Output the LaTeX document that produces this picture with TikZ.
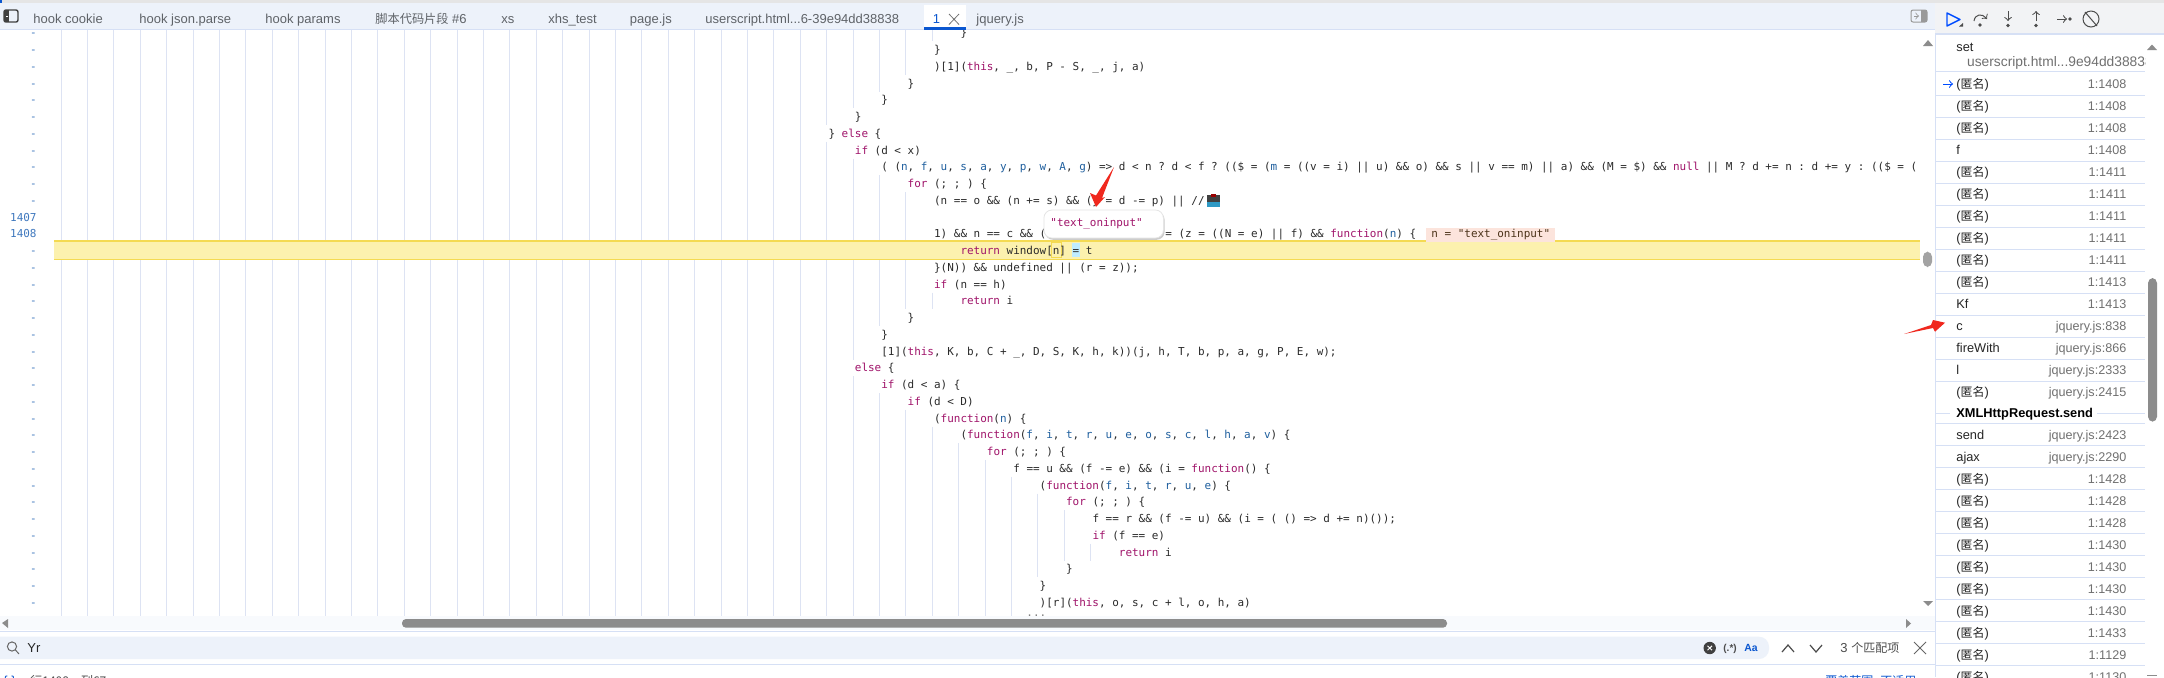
\documentclass[tikz,border=0pt]{standalone}
\usepackage{fontspec}
\usetikzlibrary{shadows}
\setmainfont{Liberation Sans}
\setmonofont{DejaVu Sans Mono}
\newfontfamily\cjk{Noto Sans CJK SC}
\definecolor{tabbg}{HTML}{EDF2FA}
\definecolor{tabtxt}{HTML}{5F6368}
\definecolor{guide}{HTML}{DDE3F3}
\definecolor{rule}{HTML}{D6E0F5}
\definecolor{codetxt}{HTML}{2B2B2B}
\definecolor{codekw}{HTML}{A0146A}
\definecolor{codepr}{HTML}{1F5F9E}
\definecolor{activeblue}{HTML}{0B57D0}
\definecolor{numblue}{HTML}{3F78BE}
\definecolor{bandfill}{HTML}{FCF1AE}
\definecolor{bandline}{HTML}{F4DA52}
\definecolor{chipfill}{HTML}{FCE4DC}
\definecolor{scrollgray}{HTML}{8C8C8C}
\definecolor{arrowred}{HTML}{F0281E}
\definecolor{toolbg}{HTML}{F2F3F5}
\definecolor{stackgray}{HTML}{707070}
\newcommand{\kw}[1]{\textcolor{codekw}{#1}}
\newcommand{\pr}[1]{\textcolor{codepr}{#1}}
\newcommand{\ands}{\&\&}
\newcommand{\anon}{({\cjk\fontsize{6}{7}\selectfont 匿名})}
\newcommand{\scripttab}{userscript.html...6-39e94dd38838}
\newcommand{\coderow}[3]{\node[codeline] (row#1) at ({62.5+26.4*#2},{36.8+16.75*#1}) {#3};}
\tikzset{
  codeline/.style={anchor=base west,inner sep=0pt,text=codetxt,font=\ttfamily\fontsize{5.48}{6}\selectfont},
  tabtext/.style={anchor=base west,inner sep=0pt,text=tabtxt,font=\fontsize{6.5}{7}\selectfont},
  stackfn/.style={anchor=base west,inner sep=0pt,text=black!85,font=\fontsize{6.4}{7}\selectfont},
  stackloc/.style={anchor=base east,inner sep=0pt,text=stackgray,font=\fontsize{6.3}{7}\selectfont},
  linenum/.style={anchor=base east,inner sep=0pt,text=numblue,font=\ttfamily\fontsize{5.48}{6}\selectfont},
  popupbox/.style={anchor=west,draw=black!10,fill=white,rounded corners=4pt,inner xsep=3.25pt,inner ysep=0pt,
    minimum height=14pt,text width=53.25pt,align=left,font=\ttfamily\fontsize{5.48}{6}\selectfont,
    drop shadow={shadow xshift=0.6pt,shadow yshift=-0.9pt,opacity=0.4}},
  redarrow/.style={fill=arrowred,draw=none},
  icon/.style={draw=black!70,line width=0.5pt},
}
\begin{document}
\begin{tikzpicture}[x=0.5pt,y=-0.5pt]
  \useasboundingbox (0,0) rectangle (2164,677);
  \fill[white] (0,0) rectangle (2164,677);

  % indent guides
  \begin{scope}
    \clip (0,30) rectangle (1920,617);
    \foreach \k in {0,...,28}
      \draw[guide,line width=0.5pt] ({61+26.4*\k},30) -- ({61+26.4*\k},616);
    \foreach \i/\L in {0/34,1/33,2/33,3/32,4/31,5/30,7/30,8/31,9/32,10/33,11/33,12/33,13/34,14/33,15/33,16/34,17/32,18/31,
      19/31,20/30,21/31,22/32,23/33,24/34,25/35,26/36,27/37,28/38,29/39,30/39,31/40,32/38,33/37,34/37,35/37} {
      \pgfmathtruncatemacro{\Lm}{\L-1}
      \foreach \k in {29,...,\Lm}
        \draw[guide,line width=0.5pt] ({61+26.4*\k},{24.6+16.75*\i}) -- ({61+26.4*\k},{41.4+16.75*\i});
    }
  \end{scope}

  % paused line
  \fill[bandfill] (54,241) rectangle (1920,259.5);
  \draw[bandline,line width=0.7pt] (54,241) -- (1920,241);
  \draw[bandline,line width=0.7pt] (54,259.5) -- (1920,259.5);
  \draw[bandline,line width=0.5pt] (1051,242.5) rectangle (1061,257);
  \fill[blue!30!cyan!25] (1072,243) rectangle (1080,256.5);

  % gutter
  \foreach \i in {0,...,10,13,14,...,34}
    \node[linenum] (dash\i) at (37,{36.8+16.75*\i}) {-};
  \node[linenum] (num1407) at (37,{36.8+16.75*11}) {1407};
  \node[linenum] (num1408) at (37,{36.8+16.75*12}) {1408};

  % code
  \begin{scope}
    \clip (0,30) rectangle (1920,617);
    \coderow{0}{34}{\}}
    \coderow{1}{33}{\}}
    \coderow{2}{33}{)[1](\kw{this}, \_, b, P - S, \_, j, a)}
    \coderow{3}{32}{\}}
    \coderow{4}{31}{\}}
    \coderow{5}{30}{\}}
    \coderow{6}{29}{\} \kw{else} \{}
    \coderow{7}{30}{\kw{if} (d < x)}
    \coderow{8}{31}{( (\pr{n}, \pr{f}, \pr{u}, \pr{s}, \pr{a}, \pr{y}, \pr{p}, \pr{w}, \pr{A}, \pr{g}) => d < n ? d < f ? ((\$ = (\pr{m} = ((v = i) || u) \ands{} o) \ands{} s || v == m) || a) \ands{} (M = \$) \ands{} \kw{null} || M ? d += n : d += y : ((\$ = (}
    \coderow{9}{32}{\kw{for} (; ; ) \{}
    \coderow{10}{33}{(n == o \ands{} (n += s) \ands{} (y = d -= p) || //}
    \coderow{12}{33}{1) \ands{} n == c \ands{} (}
    \node[codeline] (row12b) at (1165,{36.8+16.75*12}) {= (z = ((N = e) || f) \ands{} \kw{function}(\pr{n}) \{};
    \coderow{13}{34}{\kw{return} window[n] = t}
    \coderow{14}{33}{\}(N)) \ands{} undefined || (r = z));}
    \coderow{15}{33}{\kw{if} (n == h)}
    \coderow{16}{34}{\kw{return} i}
    \coderow{17}{32}{\}}
    \coderow{18}{31}{\}}
    \coderow{19}{31}{[1](\kw{this}, K, b, C + \_, D, S, K, h, k))(j, h, T, b, p, a, g, P, E, w);}
    \coderow{20}{30}{\kw{else} \{}
    \coderow{21}{31}{\kw{if} (d < a) \{}
    \coderow{22}{32}{\kw{if} (d < D)}
    \coderow{23}{33}{(\kw{function}(\pr{n}) \{}
    \coderow{24}{34}{(\kw{function}(\pr{f}, \pr{i}, \pr{t}, \pr{r}, \pr{u}, \pr{e}, \pr{o}, \pr{s}, \pr{c}, \pr{l}, \pr{h}, \pr{a}, \pr{v}) \{}
    \coderow{25}{35}{\kw{for} (; ; ) \{}
    \coderow{26}{36}{f == u \ands{} (f -= e) \ands{} (i = \kw{function}() \{}
    \coderow{27}{37}{(\kw{function}(\pr{f}, \pr{i}, \pr{t}, \pr{r}, \pr{u}, \pr{e}) \{}
    \coderow{28}{38}{\kw{for} (; ; ) \{}
    \coderow{29}{39}{f == r \ands{} (f -= u) \ands{} (i = ( () => d += n)());}
    \coderow{30}{39}{\kw{if} (f == e)}
    \coderow{31}{40}{\kw{return} i}
    \coderow{32}{38}{\}}
    \coderow{33}{37}{\}}
    \coderow{34}{37}{)[r](\kw{this}, o, s, c + l, o, h, a)}
    \node[codeline,text=black!50] (rowdots) at (1026,616) {...};
  \end{scope}

  % comment glyph after row 10
  \fill[black!75] (1207,195) rectangle (1220,202);
  \fill[red!60!black] (1211,193.5) rectangle (1216,197);
  \fill[cyan!55!teal] (1207,202) rectangle (1220,207);

  % inline value and hover popup
  \node[codeline,fill=chipfill,minimum height=7pt,inner xsep=2.5pt,anchor=base west,text=black!60!brown] (chip) at (1426,{36.8+16.75*12}) {n = "text\_oninput"};
  \node[popupbox,text=codekw] (popup) at (1043.5,224) {"text\_oninput"};
  \fill[redarrow] (1114,167) -- (1102,198) -- (1105,197) -- (1096,207) -- (1090,193) -- (1096,195.5) -- cycle;

  % tab bar
  \fill[black!10] (0,0) rectangle (2164,3);
  \fill[activeblue] (0,0) rectangle (2,3);
  \fill[tabbg] (0,3) rectangle (1935,29.5);
  \draw[rule,line width=0.5pt] (0,29.7) -- (1935,29.7);
  \fill[white] (923.5,5) rectangle (966,29);
  \fill[activeblue] (923.5,27) rectangle (966,30);
  \foreach \x/\name/\txt in {33/cookie/hook cookie,139/json/hook json.parse,265/params/hook params,
    375/snippet/{{\cjk\fontsize{6.1}{7}\selectfont 脚本代码片段} \#6},501/xs/xs,548/xhs/xhs\_test,629.5/page/page.js,
    705/script/\scripttab,976/jq/jquery.js}
    \node[tabtext] (tab\name) at (\x,23.4) {\txt};
  \node[tabtext,text=activeblue] (tabone) at (932.5,23.4) {1};
  \draw[black!55,line width=0.4pt] (949,14) -- (959,24.5) (959,14) -- (949,24.5);
  \draw[black!75,line width=0.7pt,rounded corners=1pt] (4,10) rectangle (18,22);
  \fill[black!75] (4,10) rectangle (9,22);
  \draw[white,line width=0.5pt] (8,16) -- (6,16);

  % pane toggle and code scrollbars
  \draw[black!40,rounded corners=1pt,line width=0.5pt] (1911,10) rectangle (1927,22);
  \fill[black!40] (1921,10) rectangle (1927,22);
  \draw[black!40,->,line width=0.4pt] (1914,16) -- (1919,16);
  \fill[tabbg!40] (0,616) rectangle (1935,630);
  \fill[scrollgray,rounded corners=2pt] (402,619) rectangle (1447,627.7);
  \fill[black!45] (2,623) -- (8,619) -- (8,628) -- cycle;
  \fill[black!45] (1911,623.5) -- (1906,619) -- (1906,628) -- cycle;
  \fill[black!45] (1923,46) -- (1928,40) -- (1933,46) -- cycle;
  \fill[black!45] (1923,601) -- (1928,606) -- (1933,601) -- cycle;
  \fill[scrollgray!80,rounded corners=2.5pt] (1923,251.7) rectangle (1932,267);

  % search bar
  \draw[rule,line width=0.5pt] (0,631.3) -- (1935,631.3);
  \draw[rule,line width=0.5pt] (0,664.3) -- (1935,664.3);
  \fill[tabbg,rounded corners=5pt] (-10,636.7) rectangle (1769,659);
  \draw[black!60,line width=0.5pt] (12,646.5) circle (4.6);
  \draw[black!60,line width=0.5pt] (15.5,650) -- (19,654);
  \node[tabtext,text=black!85] (searchtext) at (27,652.5) {Yr};
  \fill[black!75] (1709.7,648) circle (6.2);
  \draw[white,line width=0.5pt] (1707.5,645.8) -- (1712,650.2) (1712,645.8) -- (1707.5,650.2);
  \node[tabtext,text=black!70,font=\bfseries\fontsize{5}{6}\selectfont] (regexbtn) at (1723,651.5) {(.*)};
  \node[tabtext,text=activeblue,font=\bfseries\fontsize{5.2}{6}\selectfont] (casebtn) at (1744,651.5) {Aa};
  \draw[black!70,line width=0.6pt] (1782,652) -- (1788,645) -- (1794,652);
  \draw[black!70,line width=0.6pt] (1810,645) -- (1816,652) -- (1822,645);
  \node[tabtext,text=black!70] (matches) at (1840,652.5) {3 {\cjk\fontsize{6}{7}\selectfont 个匹配项}};
  \draw[black!60,line width=0.4pt] (1914,642) -- (1926,654) (1926,642) -- (1914,654);

  % status bar
  \node[tabtext,text=activeblue] (bracenode) at (3,685) {\{ \}};
  \node[tabtext,text=black!70] (cursorpos) at (30,685) {{\cjk\fontsize{6}{7}\selectfont 行1408，列67}};
  \node[tabtext,text=activeblue] (coverage) at (1825,685) {{\cjk\fontsize{6}{7}\selectfont 覆盖范围: 不适用}};

  % debugger pane
  \fill[toolbg] (1935,3) rectangle (2164,34);
  \draw[rule,line width=0.7pt] (1935,34) -- (2164,34);
  \draw[rule,line width=0.5pt] (1935.6,34) -- (1935.6,677);
  \draw[blue!70!cyan,line width=0.7pt,line join=round] (1947,13) -- (1960,19.5) -- (1947,26) -- cycle;
  \fill[black!70] (1959,26.5) -- (1963,26.5) -- (1963,23) -- cycle;
  \draw[icon,->] (1974,21) .. controls (1975,14) and (1982,13) .. (1987,19);
  \fill[black!70] (1980,25) circle (1.8);
  \draw[icon,->] (2008,11) -- (2008,21);
  \fill[black!70] (2008,25.5) circle (1.8);
  \draw[icon,->] (2036,21) -- (2036,11);
  \fill[black!70] (2036,25.5) circle (1.8);
  \draw[icon,->] (2057,19) -- (2067,19);
  \fill[black!70] (2070,19) circle (1.8);
  \draw[icon] (2091,19) circle (8);
  \draw[icon] (2085,12) -- (2097,26);

  % call stack
  \node[stackfn] (stackset) at (1956,51.5) {set};
  \begin{scope}
    \clip (1935,40) rectangle (2145,75);
    \node[stackloc,anchor=base west,font=\fontsize{6.9}{8}\selectfont] (stacksetloc) at (1966.7,66) {userscript.html...9e94dd38838:1};
  \end{scope}
  \draw[rule,line width=0.5pt] (1935,71.7) -- (2145,71.7);
  \foreach \n/\fn/\loc in {0/\anon/1:1408,1/\anon/1:1408,2/\anon/1:1408,3/f/1:1408,4/\anon/1:1411,5/\anon/1:1411,
    6/\anon/1:1411,7/\anon/1:1411,8/\anon/1:1411,9/\anon/1:1413,10/Kf/1:1413,11/c/jquery.js:838,12/fireWith/jquery.js:866,
    13/l/jquery.js:2333,14/\anon/jquery.js:2415} {
    \node[stackfn] (upfn\n) at (1956,{88.5+22*\n}) {\fn};
    \node[stackloc] (uploc\n) at (2126.7,{88.5+22*\n}) {\loc};
    \ifnum\n<14 \draw[rule,line width=0.5pt] (1935,{95+22*\n}) -- (2145,{95+22*\n}); \fi
  }
  \draw[blue!70!cyan,->,line width=0.5pt] (1943,84) -- (1953,84);
  \node[stackfn,font=\bfseries\fontsize{6.4}{7}\selectfont,text=black] (asynchead) at (1956,417.5) {XMLHttpRequest.send};
  \draw[rule,line width=0.5pt] (1935,413) -- (1950,413);
  \draw[rule,line width=0.5pt] (2097,413) -- (2145,413);
  \draw[rule,line width=0.5pt] (1935,423.7) -- (2145,423.7);
  \foreach \n/\fn/\loc in {0/send/jquery.js:2423,1/ajax/jquery.js:2290,2/\anon/1:1428,3/\anon/1:1428,4/\anon/1:1428,
    5/\anon/1:1430,6/\anon/1:1430,7/\anon/1:1430,8/\anon/1:1430,9/\anon/1:1433,10/\anon/1:1129,11/\anon/1:1130} {
    \node[stackfn] (lowfn\n) at (1956,{439.5+22*\n}) {\fn};
    \node[stackloc] (lowloc\n) at (2126.7,{439.5+22*\n}) {\loc};
    \draw[rule,line width=0.5pt] (1935,{445.5+22*\n}) -- (2145,{445.5+22*\n});
  }
  \fill[scrollgray,rounded corners=2.5pt] (2148,278) rectangle (2157,421.7);
  \fill[black!45] (2147,50) -- (2152,44.5) -- (2157,50) -- cycle;
  \draw[black!45,line width=0.5pt] (2147,675) -- (2157,675);

  % red pointer at the stack
  \fill[redarrow] (1904,334) -- (1931,325) -- (1933,320) -- (1945,322.7) -- (1935,331.7) -- (1933,328) -- cycle;
\end{tikzpicture}
\end{document}
